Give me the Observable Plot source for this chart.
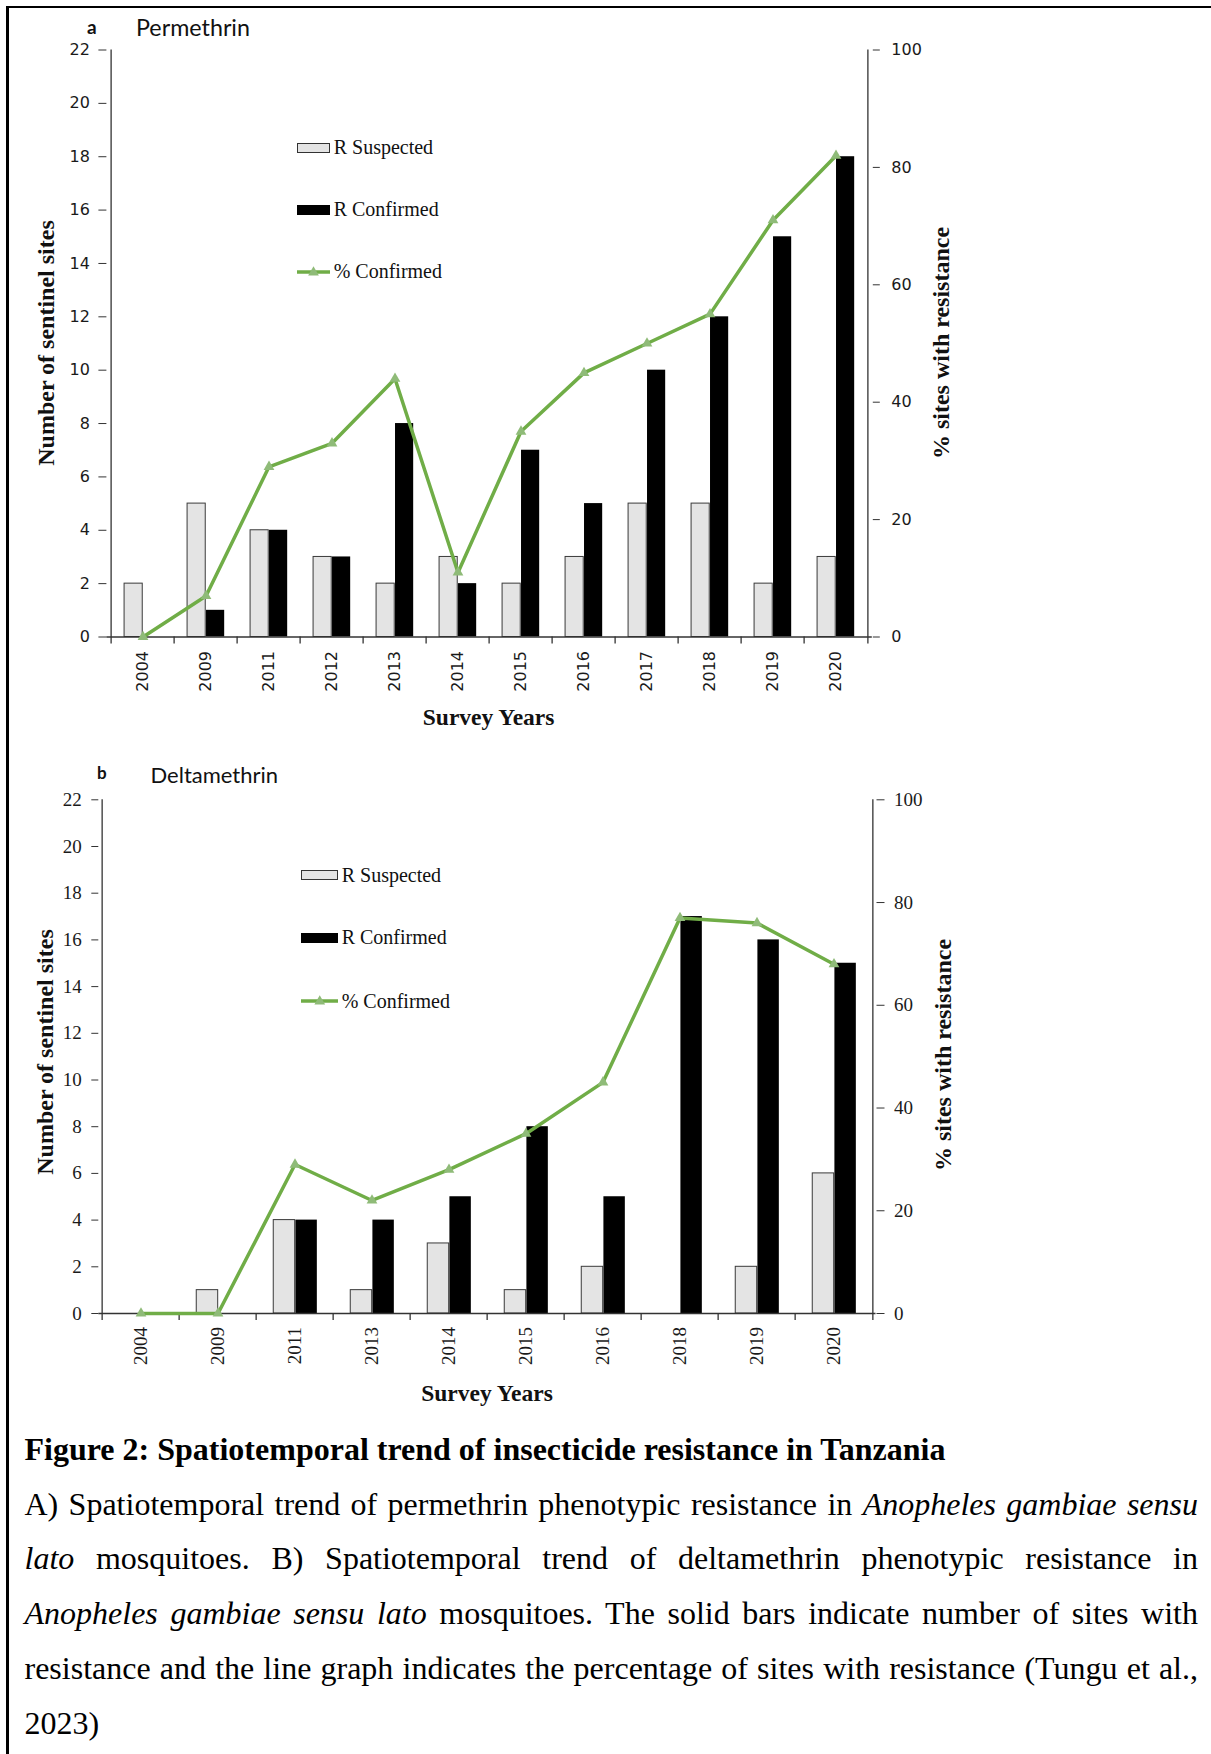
<!DOCTYPE html>
<html>
<head>
<meta charset="utf-8">
<script src="https://cdn.jsdelivr.net/npm/d3@7"></script>
<script src="https://cdn.jsdelivr.net/npm/@observablehq/plot@0.6"></script>
<style>
  html, body { margin: 0; padding: 0; background: #fff; }
  #page { position: relative; width: 1211px; height: 1754px; background: #fff; overflow: hidden; }
  .abs { position: absolute; white-space: nowrap; color: #111; }
  .serif { font-family: "Liberation Serif", "Times New Roman", serif; }
  .lato { font-family: Lato, "Open Sans", sans-serif; }
  .rot { transform: translate(-50%, -50%) rotate(-90deg); }
  .cap { position: absolute; left: 24.5px; width: 1173.5px; font-family: "Liberation Serif", "Times New Roman", serif;
         font-size: 32px; line-height: 54.8px; height: 54.8px; color: #000; }
  .just { text-align: justify; text-align-last: justify; word-spacing: -2px; }
</style>
</head>
<body>
<div id="page"></div>
<script>
// ---------- data ----------
const yearsA = ["2004","2009","2011","2012","2013","2014","2015","2016","2017","2018","2019","2020"];
const suspectedA = [2, 5, 4, 3, 2, 3, 2, 3, 5, 5, 2, 3];
const confirmedA = [0, 1, 4, 3, 8, 2, 7, 5, 10, 12, 15, 18];
const pctConfirmedA = [0, 7, 29, 33, 44, 11, 35, 45, 50, 55, 71, 82];

const yearsB = ["2004","2009","2011","2013","2014","2015","2016","2018","2019","2020"];
const suspectedB = [0, 1, 4, 1, 3, 1, 2, 0, 2, 6];
const confirmedB = [0, 0, 4, 4, 5, 8, 5, 17, 16, 15];
const pctConfirmedB = [0, 0, 29, 22, 28, 35, 45, 77, 76, 68];

const leftTicks = [0, 2, 4, 6, 8, 10, 12, 14, 16, 18, 20, 22];
const rightTicks = [0, 20, 40, 60, 80, 100];

const LEFT_MAX = 22, RIGHT_MAX = 100;
const toLeft = v => v * LEFT_MAX / RIGHT_MAX;

const GREEN = "#70ad47", MARK = "#8fbb78", LIGHT = "#e4e4e4";

function panel(o) {
  const rows = o.years.map((y, i) => ({year: y, s: o.suspected[i], c: o.confirmed[i], p: o.pct[i]}));
  const step = (o.width - o.marginLeft - o.marginRight) / o.years.length;
  const g = o.gap, b = o.bar;
  const axisColor = "#333";
  return Plot.plot({
    width: o.width, height: o.height,
    marginTop: o.marginTop, marginBottom: o.marginBottom,
    marginLeft: o.marginLeft, marginRight: o.marginRight,
    style: {fontFamily: o.font, fontSize: o.fontSize + "px", color: "#1a1a1a", background: "transparent", overflow: "visible"},
    x: {type: "band", domain: o.years, padding: 0},
    y: {domain: [0, LEFT_MAX]},
    marks: [
      Plot.barY(rows.filter(d => d.s > 0), {x: "year", y: "s", fill: LIGHT, stroke: "#3a3a3a", strokeWidth: 1,
        insetLeft: g * step, insetRight: (1 - g - b) * step}),
      Plot.barY(rows.filter(d => d.c > 0), {x: "year", y: "c", fill: "#000",
        insetLeft: (g + b) * step, insetRight: (1 - g - 2 * b) * step}),
      Plot.ruleY([0], {stroke: axisColor, strokeWidth: 1.3}),
      Plot.ruleX([o.years[0]], {x: d => d, y1: LEFT_MAX, y2: 0, dx: -step / 2, insetBottom: -7, stroke: axisColor, strokeWidth: 1.3}),
      Plot.ruleX([o.years[o.years.length - 1]], {x: d => d, y1: LEFT_MAX, y2: 0, dx: step / 2, insetBottom: -7, stroke: axisColor, strokeWidth: 1.3}),
      Plot.ruleX(o.years.slice(1), {x: d => d, y1: 0, y2: 0, dx: -step / 2, insetBottom: -7, stroke: axisColor, strokeWidth: 1.3}),
      Plot.axisY({anchor: "left", ticks: leftTicks, tickSize: o.lTick, tickPadding: o.lPad, label: null, stroke: axisColor}),
      Plot.axisY({anchor: "right", ticks: rightTicks.map(toLeft), tickFormat: v => String(Math.round(v * RIGHT_MAX / LEFT_MAX)),
        tickSize: o.rTick, tickPadding: o.rPad, label: null, stroke: axisColor}),
      Plot.axisX({anchor: "bottom", tickSize: 0, tickPadding: o.xPad, tickRotate: -90, label: null}),
      Plot.line(rows, {x: "year", y: d => toLeft(d.p), stroke: GREEN, strokeWidth: 3.5}),
      Plot.dot(rows, {x: "year", y: d => toLeft(d.p), symbol: "triangle", r: 4, fill: MARK, stroke: "none"})
    ]
  });
}

const page = document.getElementById("page");

const svgA = panel({
  years: yearsA, suspected: suspectedA, confirmed: confirmedA, pct: pctConfirmedA,
  width: 1211, height: 700, marginTop: 49.5, marginBottom: 63.5, marginLeft: 106.4, marginRight: 339.2,
  gap: 0.205, bar: 0.297, font: "DejaVu Sans", fontSize: 16,
  lTick: 8, lPad: 9, rTick: 7, rPad: 12, xPad: 14
});
svgA.style.position = "absolute"; svgA.style.left = "0px"; svgA.style.top = "0px";
page.appendChild(svgA);

const svgB = panel({
  years: yearsB, suspected: suspectedB, confirmed: confirmedB, pct: pctConfirmedB,
  width: 1211, height: 640, marginTop: 59.3, marginBottom: 67, marginLeft: 98.3, marginRight: 335.5,
  gap: 0.222, bar: 0.285, font: "Liberation Serif, Times New Roman, serif", fontSize: 19,
  lTick: 7, lPad: 10, rTick: 8, rPad: 10, xPad: 13.5
});
svgB.style.position = "absolute"; svgB.style.left = "0px"; svgB.style.top = "740px";
page.appendChild(svgB);

// ---------- text helpers ----------
function addText(html, cls, css) {
  const d = document.createElement("div");
  d.className = "abs " + cls;
  d.innerHTML = html;
  Object.assign(d.style, css);
  page.appendChild(d);
  return d;
}
const serifTop = (baseline, fs) => (baseline - 0.8375 * fs) + "px";
const latoTop = (baseline, fs) => (baseline - 0.887 * fs) + "px";

// page frame lines
function line(css) { const d = document.createElement("div"); d.style.position = "absolute"; d.style.background = "#000"; Object.assign(d.style, css); page.appendChild(d); }
line({left: "6px", top: "6px", width: "2.6px", height: "1748px"});
line({left: "6px", top: "6.3px", width: "926px", height: "1.3px"});
line({left: "6px", top: "5.6px", width: "17px", height: "2.6px"});
line({left: "932px", top: "5.6px", width: "279px", height: "2.8px"});

// panel titles
addText("a", "lato", {left: "87px", top: latoTop(33.5, 19), fontSize: "19px", lineHeight: "19px", fontWeight: "700"});
addText("Permethrin", "lato", {left: "136px", top: latoTop(36.8, 23.3), fontSize: "23.3px", lineHeight: "23.3px"});
addText("b", "lato", {left: "97px", top: latoTop(779, 17), fontSize: "17px", lineHeight: "17px", fontWeight: "700"});
addText("Deltamethrin", "lato", {left: "150.5px", top: latoTop(783.3, 22), fontSize: "22px", lineHeight: "22px"});

// axis titles
function axisTitles(lx, rx, cy, sx, sBase) {
  addText("Number of sentinel sites", "serif rot", {left: lx + "px", top: cy.l + "px", fontSize: "24px", lineHeight: "24px", fontWeight: "700"});
  addText("% sites with resistance", "serif rot", {left: rx + "px", top: cy.r + "px", fontSize: "24px", lineHeight: "24px", fontWeight: "700"});
  addText("Survey Years", "serif", {left: sx + "px", top: serifTop(sBase, 23.5), fontSize: "23.5px", lineHeight: "23.5px", fontWeight: "700", transform: "translateX(-50%)"});
}
axisTitles(46, 941, {l: 343, r: 342.5}, 488.6, 726);
axisTitles(45, 943, {l: 1051.5, r: 1054.5}, 487, 1401.7);

// legends
function legend(x, w, textX, rows) {
  const [c1, c2, c3] = rows;
  const fs = 20;
  const sw1 = document.createElement("div");
  Object.assign(sw1.style, {position: "absolute", left: x + "px", top: (c1 - 5) + "px", width: w + "px", height: "10px",
    background: LIGHT, border: "1px solid #333", boxSizing: "border-box"});
  page.appendChild(sw1);
  const sw2 = document.createElement("div");
  Object.assign(sw2.style, {position: "absolute", left: x + "px", top: (c2 - 5) + "px", width: w + "px", height: "10px", background: "#000"});
  page.appendChild(sw2);
  const ns = "http://www.w3.org/2000/svg";
  const s = document.createElementNS(ns, "svg");
  s.setAttribute("width", w); s.setAttribute("height", 14);
  Object.assign(s.style, {position: "absolute", left: x + "px", top: (c3 - 7) + "px"});
  s.innerHTML = `<line x1="0" x2="${w}" y1="7" y2="7" stroke="${GREEN}" stroke-width="3.5"/>` +
    `<path transform="translate(${w / 2},7.5)" d="${d3.symbol(d3.symbolTriangle, 50)()}" fill="${MARK}"/>`;
  page.appendChild(s);
  addText("R Suspected", "serif", {left: textX + "px", top: serifTop(c1 + 6.5, fs), fontSize: fs + "px", lineHeight: fs + "px"});
  addText("R Confirmed", "serif", {left: textX + "px", top: serifTop(c2 + 6.5, fs), fontSize: fs + "px", lineHeight: fs + "px"});
  addText("% Confirmed", "serif", {left: textX + "px", top: serifTop(c3 + 6.5, fs), fontSize: fs + "px", lineHeight: fs + "px"});
}
legend(297, 33, 333.7, [147.7, 209.7, 271.7]);
legend(300.8, 37.5, 341.7, [875.3, 937.5, 1001.2]);

// caption
const capLines = [
  {html: "<b>Figure 2: Spatiotemporal trend of insecticide resistance in Tanzania</b>", just: false},
  {html: "A) Spatiotemporal trend of permethrin phenotypic resistance in <i>Anopheles gambiae sensu</i>", just: true},
  {html: "<i>lato</i> mosquitoes. B) Spatiotemporal trend of deltamethrin phenotypic resistance in", just: true},
  {html: "<i>Anopheles gambiae sensu lato</i> mosquitoes. The solid bars indicate number of sites with", just: true},
  {html: "resistance and the line graph indicates the percentage of sites with resistance (Tungu et al.,", just: true},
  {html: "2023)", just: false}
];
const capFs = 32, capLh = 54.8;
const capTop0 = 1460 - ((capLh - 1.107 * capFs) / 2 + 0.891 * capFs);
capLines.forEach((l, i) => {
  const d = document.createElement("div");
  d.className = "cap" + (l.just ? " just" : "");
  d.style.top = (capTop0 + i * capLh) + "px";
  d.innerHTML = l.html;
  page.appendChild(d);
});
</script>
</body>
</html>
